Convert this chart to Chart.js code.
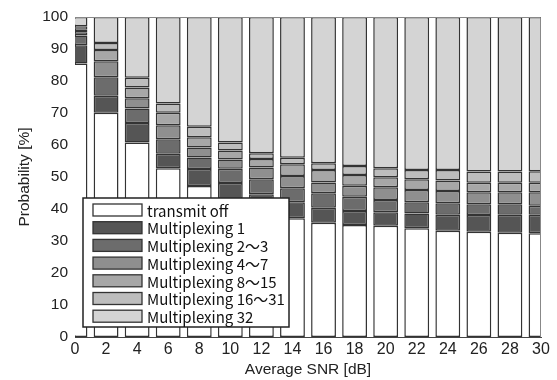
<!DOCTYPE html>
<html>
<head>
<meta charset="utf-8">
<script src="https://cdn.jsdelivr.net/npm/chart.js@4"></script>
<style>
    body { margin: 0; background: #fff; }
    #wrap { width: 557px; height: 380px; }
</style>
</head>
<body>
<div id="wrap"><canvas id="snrChart"></canvas></div>
<script>
const snrLabels = ['0', '2', '4', '6', '8', '10', '12', '14', '16', '18', '20', '22', '24', '26', '28', '30'];
const seriesNames = ['transmit off', 'Multiplexing 1', 'Multiplexing 2〜3', 'Multiplexing 4〜7', 'Multiplexing 8〜15', 'Multiplexing 16〜31', 'Multiplexing 32'];
const transmitOff = [85.5, 70.1, 60.8, 52.7, 47.2, 43.2, 40.0, 37.1, 35.7, 35.0, 34.8, 34.0, 33.2, 32.9, 32.6, 32.4];
const mux1 = [5.7, 5.3, 6.1, 4.6, 5.3, 4.9, 4.6, 5.0, 4.7, 4.4, 4.2, 4.6, 5.0, 5.2, 5.6, 5.8];
const mux2to3 = [3.0, 5.8, 4.5, 4.5, 3.6, 4.5, 4.7, 4.4, 4.5, 4.4, 3.8, 3.5, 3.6, 3.4, 3.3, 2.8];
const mux4to7 = [1.0, 5.0, 3.2, 4.4, 3.1, 2.9, 3.7, 3.8, 3.4, 3.5, 4.0, 3.8, 3.8, 3.7, 3.7, 4.2];
const mux8to15 = [0.8, 3.5, 3.4, 3.9, 3.2, 2.8, 2.6, 3.7, 3.9, 3.3, 3.1, 3.4, 3.3, 3.0, 3.0, 3.0];
const mux16to31 = [1.1, 2.2, 3.0, 2.9, 3.3, 2.5, 1.8, 2.0, 2.1, 2.8, 2.8, 2.9, 3.3, 3.5, 3.5, 3.6];
const mux32 = [2.9, 8.1, 19.0, 27.0, 34.3, 39.2, 42.6, 44.0, 45.7, 46.6, 47.3, 47.8, 47.8, 48.3, 48.3, 48.2];
const yTicks = [0, 10, 20, 30, 40, 50, 60, 70, 80, 90, 100];

const seriesValues = [transmitOff, mux1, mux2to3, mux4to7, mux8to15, mux16to31, mux32];
const fills = ['#ffffff', '#555555', '#6c6c6c', '#8f8f8f', '#a7a7a7', '#bdbdbd', '#d4d4d4'];

Chart.defaults.font.family = "'Liberation Sans', Arial, sans-serif";
Chart.defaults.color = '#222';

// legend box drawn inside the plot, like the original figure
const boxLegend = {
    id: 'boxLegend',
    afterDraw(chart) {
        const ctx = chart.ctx;
        const area = chart.chartArea;
        ctx.save();
        // frame round the plot
        ctx.strokeStyle = '#888';
        ctx.lineWidth = 1;
        ctx.beginPath();
        ctx.moveTo(area.left, area.top + 0.5);
        ctx.lineTo(area.right - 0.5, area.top + 0.5);
        ctx.lineTo(area.right - 0.5, area.bottom);
        ctx.stroke();

        const x0 = 83, y0 = 198, w = 206, h = 129;
        ctx.fillStyle = '#fff';
        ctx.fillRect(x0, y0, w, h);
        ctx.strokeStyle = '#222';
        ctx.lineWidth = 1.5;
        ctx.strokeRect(x0, y0, w, h);
        ctx.font = '15px "Noto Sans CJK JP", sans-serif';
        ctx.textBaseline = 'middle';
        chart.data.datasets.forEach((ds, i) => {
            const cy = y0 + 12 + i * 17.7;
            ctx.fillStyle = ds.backgroundColor;
            ctx.fillRect(93, cy - 6, 49, 12);
            ctx.strokeStyle = '#333';
            ctx.lineWidth = 1.3;
            ctx.strokeRect(93, cy - 6, 49, 12);
            ctx.fillStyle = '#111';
            ctx.fillText(ds.label, 147, cy + 1);
        });
        ctx.restore();
    }
};

const snrChart = new Chart(document.getElementById('snrChart').getContext('2d'), {
    type: 'bar',
    data: {
        labels: snrLabels,
        datasets: seriesNames.map((name, i) => ({
            label: name,
            data: seriesValues[i],
            backgroundColor: fills[i],
            borderColor: '#333',
            borderWidth: 1.5,
            borderSkipped: false,
            clip: 0
        }))
    },
    options: {
        responsive: true,
        maintainAspectRatio: false,
        animation: false,
        categoryPercentage: 1,
        barPercentage: 0.8,
        layout: {
            padding: { top: 17, right: 16, left: 0, bottom: 0 }
        },
        scales: {
            x: {
                stacked: true,
                offset: false,
                grid: { display: false, drawTicks: false },
                border: { display: true, color: '#444' },
                ticks: {
                    autoSkip: false,
                    maxRotation: 0,
                    padding: 3,
                    font: { size: 16 }
                },
                title: {
                    display: true,
                    text: 'Average SNR [dB]',
                    padding: { top: 0, bottom: 1 },
                    font: { size: 15.5 }
                },
                afterFit(scale) { scale.height = 43; }
            },
            y: {
                stacked: true,
                min: 0,
                max: 100,
                grid: { display: false, drawTicks: false },
                border: { display: true, color: '#444' },
                afterBuildTicks(scale) { scale.ticks = yTicks.map(v => ({ value: v })); },
                ticks: {
                    padding: 7,
                    font: { size: 15.5 }
                },
                title: {
                    display: true,
                    text: 'Probability [%]',
                    padding: { top: 15, bottom: 0 },
                    font: { size: 15.5 }
                },
                afterFit(scale) { scale.width = 75; }
            }
        },
        plugins: {
            legend: { display: false },
            tooltip: { enabled: false }
        }
    },
    plugins: [boxLegend]
});
</script>
</body>
</html>
